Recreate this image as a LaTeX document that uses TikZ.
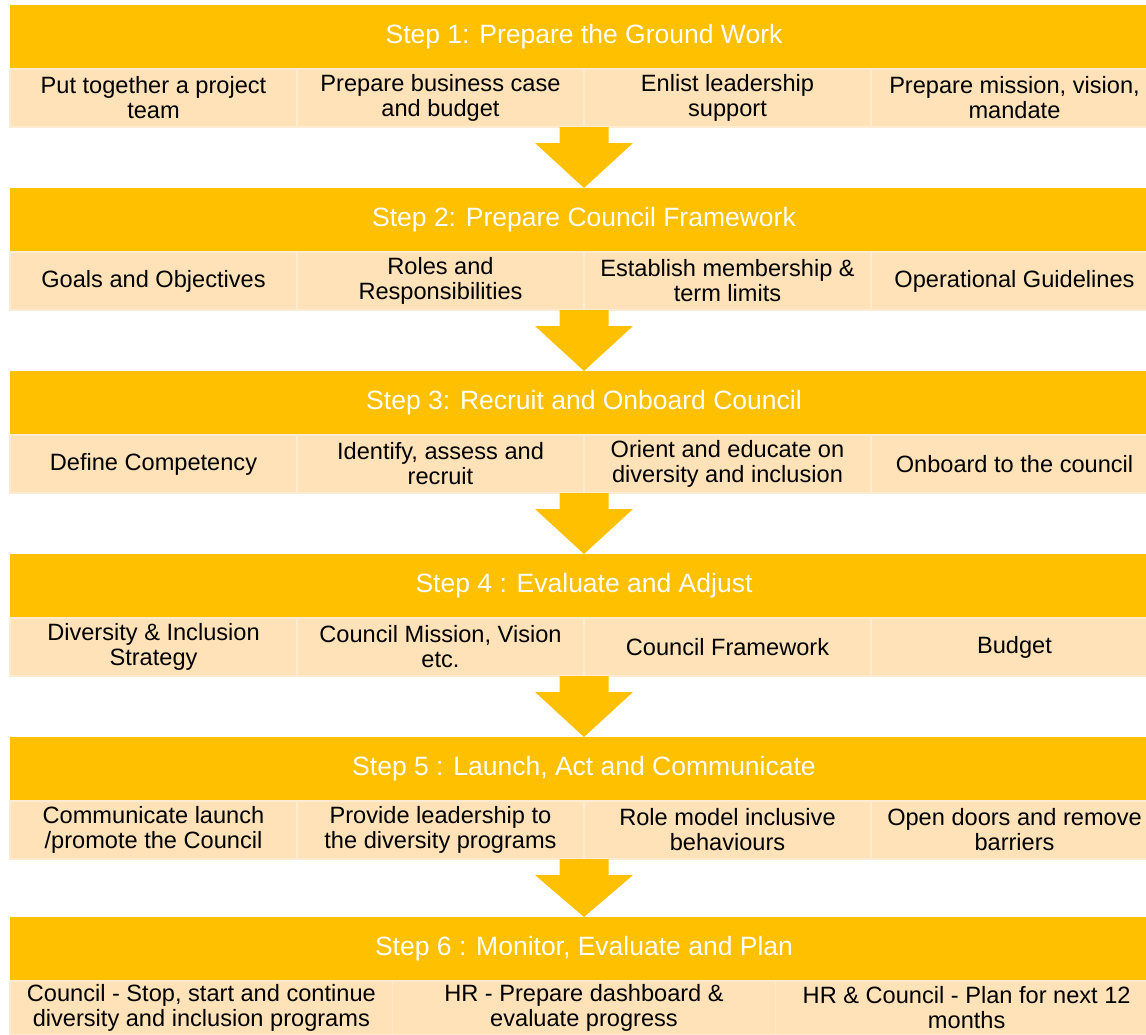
\documentclass[tikz,border=0pt]{standalone}
\usepackage{fontspec}
\setmainfont{Liberation Sans}
\usetikzlibrary{calc}
\definecolor{gold}{HTML}{FFC000}
\definecolor{peach}{HTML}{FFE2B7}
\definecolor{peachline}{HTML}{FFEBD2}
\tikzset{
  header/.style={fill=gold, text=white, inner sep=0pt, outer sep=0pt,
    minimum width=1148pt, minimum height=64pt, anchor=north west,
    font=\fontsize{26.5}{30}\selectfont},
  cellbox/.style={fill=peach, draw=peachline, line width=1.5pt, inner sep=0pt, outer sep=0pt,
    minimum height=58pt, anchor=north west, align=center, text=black,
    font=\fontsize{23.6}{25}\selectfont},
  cellfour/.style={cellbox, minimum width=287pt},
  cellthree/.style={cellbox, minimum width=382.67pt, minimum height=54pt},
}
\newcommand{\flowarrow}[2]{%
  \fill[gold] ($(#1)+(-24.5,0)$) -- ($(#1)+(24.5,0)$) -- ($(#1)+(24.5,16)$)
    -- ($(#1)+(49,16)$) -- (#2) -- ($(#1)+(-49,16)$) -- ($(#1)+(-24.5,16)$) -- cycle;}
\begin{document}
\begin{tikzpicture}[x=1pt, y=-1pt]
\useasboundingbox (0,0) rectangle (1146,1034);
\clip (0,0) rectangle (1146,1034);
% Step 1
\node[header] (h1) at (10,5) {Step 1: Prepare the Ground Work};
\node[cellfour] (c11) at (10,69) {Put together a project\\team};
\node[cellfour] (c12) at (297,69) {Prepare business case\\and budget};
\node[cellfour] (c13) at (584,69) {Enlist leadership\\support};
\node[cellfour] (c14) at (871,69) {Prepare mission, vision,\\mandate};
\coordinate (b1) at (584,127);
% Step 2
\node[header] (h2) at (10,188) {Step 2: Prepare Council Framework};
\node[cellfour] (c21) at (10,252) {Goals and Objectives};
\node[cellfour] (c22) at (297,252) {Roles and\\Responsibilities};
\node[cellfour] (c23) at (584,252) {Establish membership \&\\term limits};
\node[cellfour] (c24) at (871,252) {Operational Guidelines};
\coordinate (b2) at (584,310);
% Step 3
\node[header] (h3) at (10,371) {Step 3: Recruit and Onboard Council};
\node[cellfour] (c31) at (10,435) {Define Competency};
\node[cellfour] (c32) at (297,435) {Identify, assess and\\recruit};
\node[cellfour] (c33) at (584,435) {Orient and educate on\\diversity and inclusion};
\node[cellfour] (c34) at (871,435) {Onboard to the council};
\coordinate (b3) at (584,493);
% Step 4
\node[header] (h4) at (10,554) {Step 4 : Evaluate and Adjust};
\node[cellfour] (c41) at (10,618) {Diversity \& Inclusion\\Strategy};
\node[cellfour] (c42) at (297,618) {Council Mission, Vision\\etc.};
\node[cellfour] (c43) at (584,618) {Council Framework};
\node[cellfour] (c44) at (871,618) {Budget};
\coordinate (b4) at (584,676);
% Step 5
\node[header] (h5) at (10,737) {Step 5 : Launch, Act and Communicate};
\node[cellfour] (c51) at (10,801) {Communicate launch\\/promote the Council};
\node[cellfour] (c52) at (297,801) {Provide leadership to\\the diversity programs};
\node[cellfour] (c53) at (584,801) {Role model inclusive\\behaviours};
\node[cellfour] (c54) at (871,801) {Open doors and remove\\barriers};
\coordinate (b5) at (584,859);
% Step 6
\node[header] (h6) at (10,917) {Step 6 : Monitor, Evaluate and Plan};
\node[cellthree] (c61) at (10,981) {Council - Stop, start and continue\\diversity and inclusion programs};
\node[cellthree] (c62) at (392.67,981) {HR - Prepare dashboard \&\\evaluate progress};
\node[cellthree] (c63) at (775.33,981) {HR \& Council - Plan for next 12\\months};
% arrows
\flowarrow{b1}{h2.north}
\flowarrow{b2}{h3.north}
\flowarrow{b3}{h4.north}
\flowarrow{b4}{h5.north}
\flowarrow{b5}{h6.north}
\end{tikzpicture}
\end{document}
